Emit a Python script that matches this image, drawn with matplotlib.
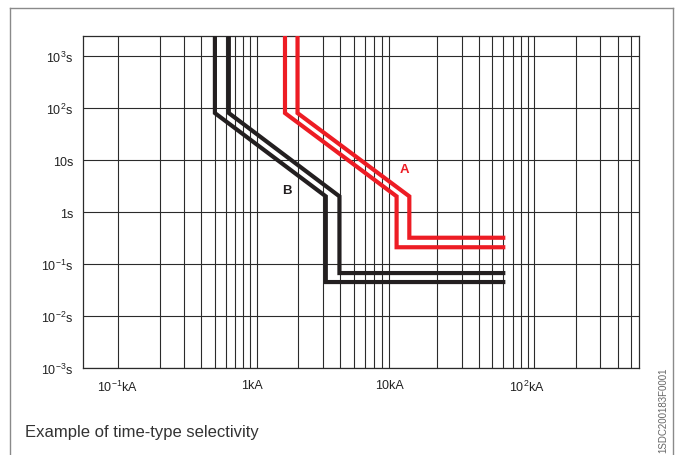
import matplotlib
matplotlib.use("Agg")
import matplotlib.pyplot as plt
from matplotlib.lines import Line2D
from matplotlib.transforms import ScaledTranslation

plt.rcParams['font.family'] = ['Liberation Sans', 'DejaVu Sans']
plt.rcParams['mathtext.fontset'] = 'custom'
plt.rcParams['mathtext.rm'] = 'Liberation Sans'
plt.rcParams['mathtext.it'] = 'Liberation Sans:italic'
plt.rcParams['mathtext.bf'] = 'Liberation Sans:bold'

# ---- data ----
x_ticks_kA = [0.1, 1, 10, 100]
x_tick_labels = [r'10$^{\mathregular{-1}}$kA', '1kA', '10kA', r'10$^{\mathregular{2}}$kA']
y_ticks_s = [1e-3, 1e-2, 1e-1, 1, 10, 100, 1000]
y_tick_labels = [r'10$^{\mathregular{-3}}$s', r'10$^{\mathregular{-2}}$s', r'10$^{\mathregular{-1}}$s',
                 '1s', '10s', r'10$^{\mathregular{2}}$s', r'10$^{\mathregular{3}}$s']

# vertical grid lines as drawn in the original (10 kA line absent)
grid_x_kA = [0.1, 0.2, 0.3, 0.4, 0.5, 0.6, 0.7, 0.8, 0.9, 1.0,
             2, 3, 4, 5, 6, 7, 8, 9,
             20, 30, 40, 50, 60, 70, 80, 90, 100,
             200, 300, 400, 500]
grid_y_s = [1e-3, 1e-2, 1e-1, 1, 10, 100, 1000]

# curve B (downstream breaker), two band limits
B_low_I = [0.50, 0.50, 3.15, 3.15, 62]
B_low_t = [3000, 80, 2.0, 0.045, 0.045]
B_high_I = [0.63, 0.63, 3.95, 3.95, 62]
B_high_t = [3000, 80, 2.0, 0.067, 0.067]

# curve A (upstream breaker), two band limits
A_low_I = [1.60, 1.60, 10.2, 10.2, 62]
A_low_t = [3000, 80, 2.0, 0.21, 0.21]
A_high_I = [1.97, 1.97, 12.6, 12.6, 62]
A_high_t = [3000, 80, 2.0, 0.32, 0.32]

label_A = ('A', 11.6, 6.7)
label_B = ('B', 1.64, 2.65)

title = 'Example of time-type selectivity'
code = '1SDC200183F0001'

# ---- figure ----
fig = plt.figure(figsize=(6.75, 4.56), dpi=100)
ax = fig.add_axes([83/675, 1-369/456, (639-83)/675, (369-37)/456])
ax.set_xscale('log')
ax.set_yscale('log')
ax.set_xlim(0.056, 570)
ax.set_ylim(1e-3, 2427)

gcol = '#2b2b2b'
for gx in grid_x_kA:
    ax.axvline(gx, color=gcol, lw=0.8, zorder=1)
for gy in grid_y_s:
    ax.axhline(gy, color=gcol, lw=0.8, zorder=1)

black = '#231f20'
red = '#ed1c24'
kw = dict(lw=3.0, solid_joinstyle='miter', solid_capstyle='butt', zorder=3)
ax.plot(B_low_I, B_low_t, color=black, **kw)
ax.plot(B_high_I, B_high_t, color=black, **kw)
ax.plot(A_low_I, A_low_t, color=red, **kw)
ax.plot(A_high_I, A_high_t, color=red, **kw)

ax.text(label_A[1], label_A[2], label_A[0], color=red, fontsize=9.5, fontweight='bold',
        ha='center', va='center', zorder=4)
ax.text(label_B[1], label_B[2], label_B[0], color=black, fontsize=9.5, fontweight='bold',
        ha='center', va='center', zorder=4)

ax.set_xticks(x_ticks_kA)
ax.set_xticklabels(x_tick_labels)
ax.set_yticks(y_ticks_s)
ax.set_yticklabels(y_tick_labels)
ax.minorticks_off()
ax.tick_params(axis='both', length=0, labelsize=9, labelcolor='#222222')
ax.tick_params(axis='x', pad=8)
ax.tick_params(axis='y', pad=7)
offs = [0, -5, -6, -7]
for lab, o in zip(ax.get_xticklabels(), offs):
    lab.set_transform(lab.get_transform() + ScaledTranslation(o/100, 0, fig.dpi_scale_trans))

for s in ax.spines.values():
    s.set_color(gcol)
    s.set_linewidth(0.9)

# outer frame
fc = '#8a8a8a'
fig.add_artist(Line2D([10/675, 10/675], [0, 1-9/456], transform=fig.transFigure, color=fc, lw=1.0))
fig.add_artist(Line2D([10/675, 673/675], [1-9/456, 1-9/456], transform=fig.transFigure, color=fc, lw=1.0))
fig.add_artist(Line2D([673/675, 673/675], [0, 1-9/456], transform=fig.transFigure, color=fc, lw=1.0))

fig.text(25/675, 1-433/456, title, fontsize=12, color='#333333', ha='left', va='center')
fig.text(663/675, 1-410/456, code, fontsize=7, color='#666666', rotation=90,
         ha='center', va='center')

fig.savefig('out.png', dpi=100)
